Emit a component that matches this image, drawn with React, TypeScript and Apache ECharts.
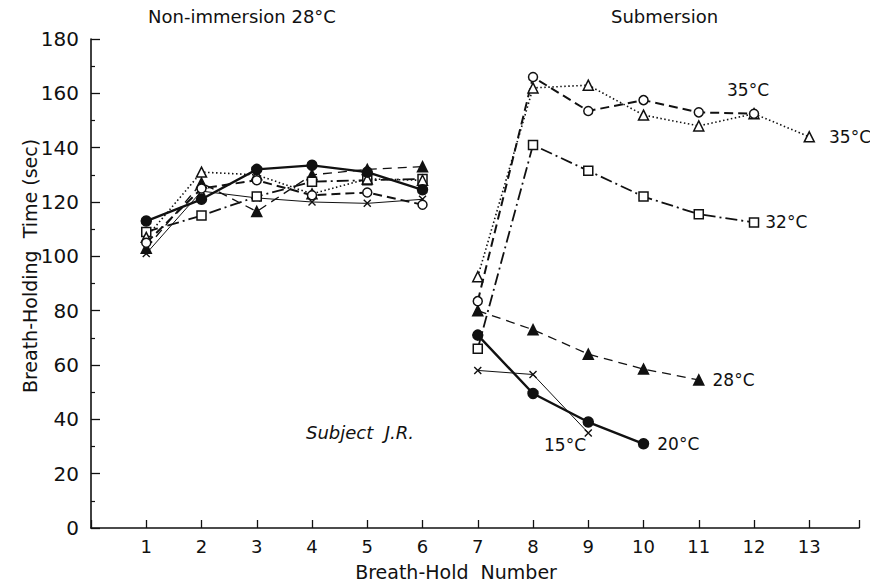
import React, { useEffect, useRef } from "react";
import * as echarts from "echarts";

// Breath-hold numbers
const holdsDry = [1, 2, 3, 4, 5, 6];
const holdsWet = [7, 8, 9, 10, 11, 12, 13];

// Non-immersion (28°C air), breath-holding time in seconds
const dry20 = [113, 121, 132, 133.5, 131, 124.5];
const dry15 = [101, 124, 121.5, 120, 119.5, 121];
const dry28 = [103, 127, 116.5, 130, 132, 133];
const dry32 = [109, 115, 122, 127.5, 128, 128.5];
const dry35o = [105, 125, 128, 122.5, 123.5, 119];
const dry35t = [107, 131, 130, 123, 128.5, 128];

// Submersion at different water temperatures
const wet35o = [83.5, 166, 153.5, 157.5, 153, 152.5];
const wet35t = [92.5, 162, 163, 152, 148, 152.5, 144];
const wet32 = [66, 141, 131.5, 122, 115.5, 112.5];
const wet28 = [80, 73, 64, 58.5, 54.5];
const wet20 = [71, 49.5, 39, 31];
const wet15 = [58, 56.5, 35];

const yTicks = [0, 20, 40, 60, 80, 100, 120, 140, 160, 180];

const FONT = "DejaVu Sans";
const INK = "#111";
const CROSS = "path://M0,0L10,10M10,0L0,10";

type Look = {
  symbol: string;
  open: boolean;
  size: number;
  dash: any;
  width: number;
};

const looks: Record<string, Look> = {
  t20: { symbol: "circle", open: false, size: 10, dash: "solid", width: 2.4 },
  t15: { symbol: CROSS, open: false, size: 7, dash: "solid", width: 1 },
  t28: { symbol: "triangle", open: false, size: 10, dash: [9, 6], width: 1.3 },
  t32: { symbol: "rect", open: true, size: 9, dash: [12, 4, 2, 4], width: 1.8 },
  t35o: { symbol: "circle", open: true, size: 9, dash: [9, 5], width: 2 },
  t35t: { symbol: "triangle", open: true, size: 10, dash: [1.5, 2.5], width: 1.6 },
};

function makeSeries(
  key: string,
  xs: number[],
  ys: number[],
  endLabel?: { text: string; position: any; offset?: number[]; distance?: number }
) {
  const look = looks[key];
  const data: any[] = ys.map((y, i) => [xs[i], y]);
  if (endLabel) {
    const last = data.length - 1;
    data[last] = {
      value: data[last],
      label: {
        show: true,
        formatter: endLabel.text,
        position: endLabel.position,
        offset: endLabel.offset || [0, 0],
        distance: endLabel.distance ?? 6,
        fontFamily: FONT,
        fontSize: 17,
        color: INK,
      },
    };
  }
  return {
    type: "line",
    name: key,
    data,
    symbol: look.symbol,
    symbolSize: look.size,
    showSymbol: true,
    lineStyle: { color: INK, width: look.width, type: look.dash },
    itemStyle: {
      color: look.open ? "#fff" : INK,
      borderColor: INK,
      borderWidth: look.symbol === CROSS ? 1.4 : 1.5,
      opacity: 1,
    },
    emphasis: { disabled: true },
    z: 3,
  };
}

export default function App() {
  const ref = useRef<HTMLDivElement>(null);

  useEffect(() => {
    if (!ref.current) return;
    const chart = echarts.init(ref.current, null, { renderer: "svg" });

    const series = [
      makeSeries("t15", holdsDry, dry15),
      makeSeries("t28", holdsDry, dry28),
      makeSeries("t32", holdsDry, dry32),
      makeSeries("t35t", holdsDry, dry35t),
      makeSeries("t35o", holdsDry, dry35o),
      makeSeries("t20", holdsDry, dry20),

      makeSeries("t15", holdsWet, wet15, { text: "15°C", position: "left", offset: [4, 12], distance: 2 }),
      makeSeries("t28", holdsWet, wet28, { text: "28°C", position: "right", distance: 8 }),
      makeSeries("t32", holdsWet, wet32, { text: "32°C", position: "right", distance: 6 }),
      makeSeries("t35t", holdsWet, wet35t, { text: "35°C", position: "right", distance: 14 }),
      makeSeries("t35o", holdsWet, wet35o, { text: "35°C", position: "top", offset: [-6, -4] }),
      makeSeries("t20", holdsWet, wet20, { text: "20°C", position: "right", distance: 8 }),
    ];

    chart.setOption({
      animation: false,
      backgroundColor: "#fff",
      grid: { left: 91, right: 11, top: 39, bottom: 58, containLabel: false },
      xAxis: {
        type: "value",
        min: 0,
        max: 13.9,
        interval: 1,
        splitLine: { show: false },
        axisLine: { show: true, lineStyle: { color: INK, width: 1.6 } },
        axisTick: { show: true, inside: true, length: 8, lineStyle: { color: INK, width: 1.3 } },
        axisLabel: {
          fontFamily: FONT,
          fontSize: 18,
          color: INK,
          margin: 9,
          formatter: (v: number) => (v >= 1 && v <= 13 ? String(v) : ""),
        },
      },
      yAxis: {
        type: "value",
        min: yTicks[0],
        max: yTicks[yTicks.length - 1],
        interval: 20,
        splitLine: { show: false },
        axisLine: { show: true, lineStyle: { color: INK, width: 1.6 } },
        axisTick: { show: true, inside: true, length: 9, lineStyle: { color: INK, width: 1.3 } },
        minorTick: { show: true, splitNumber: 2, length: 4, lineStyle: { color: INK, width: 1.2 } },
        axisLabel: { fontFamily: FONT, fontSize: 20, color: INK, margin: 12 },
      },
      graphic: [
        {
          type: "text",
          left: 148,
          top: 7,
          style: { text: "Non-immersion 28°C", fontFamily: FONT, fontSize: 18, fill: INK },
        },
        {
          type: "text",
          left: 611,
          top: 7,
          style: { text: "Submersion", fontFamily: FONT, fontSize: 18, fill: INK },
        },
        {
          type: "text",
          x: 30,
          y: 266,
          rotation: Math.PI / 2,
          style: {
            text: "Breath-Holding  Time (sec)",
            fontFamily: FONT,
            fontSize: 19,
            fill: INK,
            align: "center",
            verticalAlign: "middle",
          },
        },
        {
          type: "text",
          x: 456,
          y: 572,
          style: {
            text: "Breath-Hold  Number",
            fontFamily: FONT,
            fontSize: 19,
            fill: INK,
            align: "center",
            verticalAlign: "middle",
          },
        },
        {
          type: "text",
          x: 360,
          y: 432,
          style: {
            text: "Subject  J.R.",
            fontFamily: FONT,
            fontSize: 18,
            fontStyle: "italic",
            fill: INK,
            align: "center",
            verticalAlign: "middle",
          },
        },
      ],
      series,
    });

    return () => chart.dispose();
  }, []);

  return (
    <div
      ref={ref}
      style={{ position: "fixed", left: 0, top: 0, width: 870, height: 586, background: "#fff" }}
    />
  );
}
